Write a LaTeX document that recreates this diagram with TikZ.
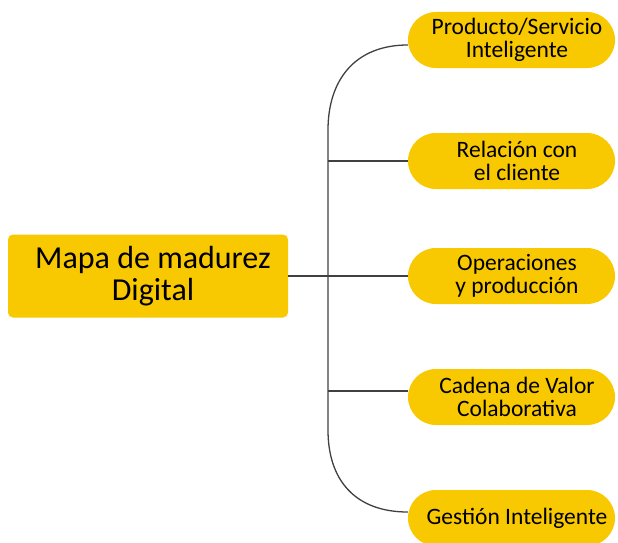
\documentclass[tikz,border=0pt]{standalone}
\usepackage{fontspec}
\setmainfont{Carlito}
\usetikzlibrary{positioning}
\usetikzlibrary{calc}
\definecolor{mapyellow}{RGB}{248,200,0}
\definecolor{linegray}{RGB}{64,64,64}
\tikzset{
  rootbox/.style={fill=mapyellow, rounded corners=5pt, minimum width=280pt, minimum height=83pt,
    align=center, font=\fontsize{32}{32}\selectfont, inner sep=0pt},
  pill/.style={fill=mapyellow, rounded corners=28pt, minimum width=207pt, minimum height=56pt,
    align=center, font=\fontsize{23.5}{23}\selectfont, inner sep=0pt},
  branch/.style={draw=linegray, line width=1.3pt}
}
\begin{document}
\begin{tikzpicture}[x=1pt, y=1pt]
        \useasboundingbox (0,0) rectangle (618,-543);
        \clip (0,0) rectangle (618,-543);
        % root
        \node[rootbox] (mapa) at (148,-276) {\hspace*{10pt}Mapa de madurez\\\hspace*{10pt}Digital};
        % leaves
        \node[pill] (producto) at (511.5,-40) {\hspace*{11pt}Producto/Servicio\\\hspace*{11pt}Inteligente};
        \node[pill] (relacion) at (511.5,-161) {\hspace*{11pt}Relación con\\\hspace*{11pt}el cliente};
        \node[pill] (operaciones) at (511.5,-276) {\hspace*{11pt}Operaciones\\\hspace*{11pt}y producción};
        \node[pill] (cadena) at (511.5,-397) {\hspace*{11pt}Cadena de Valor\\\hspace*{11pt}Colaborativa};
        \node[pill] (gestion) at (511.5,-518) {\hspace*{11pt}Gestión Inteligente};
        % trunk
        \coordinate (top) at ($(producto.west)+(0,-5)$);
        \coordinate (bot) at ($(gestion.west)+(0,6)$);
        \coordinate (j2) at (328,-161);
        \coordinate (j4) at (328,-391);
        \draw[branch] (top) .. controls (355,-45) and (328,-80) .. (328,-130)
                -- (328,-430) .. controls (328,-480) and (355,-512) .. (bot);
        \draw[branch] (mapa.east) -- (operaciones.west);
        \draw[branch] (j2) -- (relacion.west);
        \draw[branch] (j4) -- ($(cadena.west)+(0,6)$);
\end{tikzpicture}
\end{document}
